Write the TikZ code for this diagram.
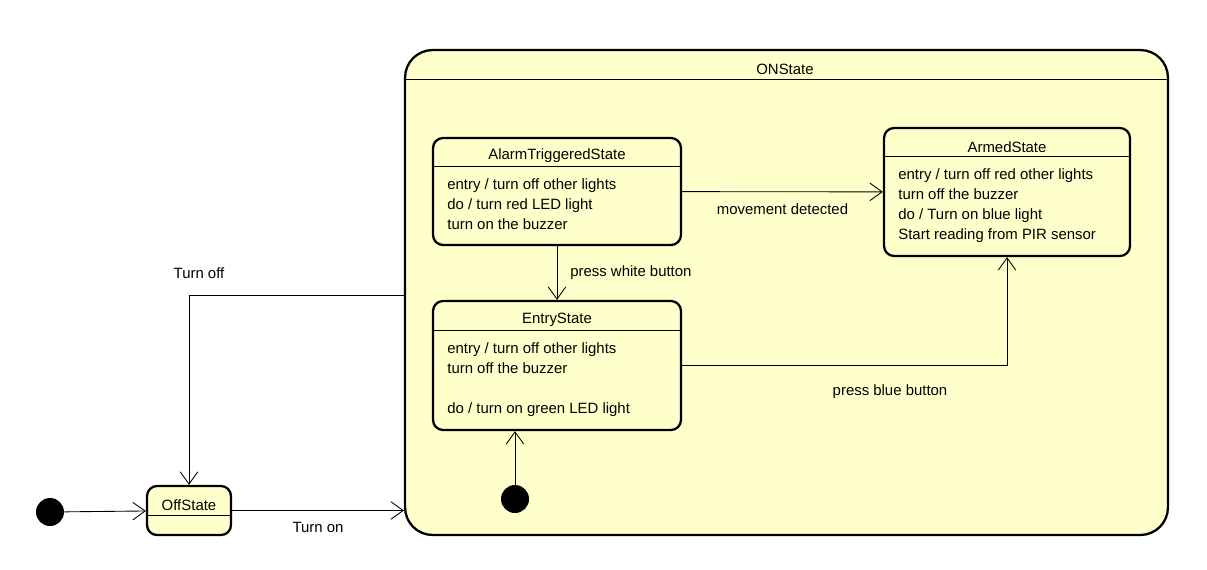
\documentclass[tikz,border=0pt]{standalone}
\usepackage{fontspec}
\setmainfont{Liberation Sans}
\usetikzlibrary{arrows.meta}
\definecolor{statefill}{HTML}{FFFFCC}

\begin{document}
\begin{tikzpicture}[x=0.02cm, y=-0.02cm,
    font=\fontsize{8.5}{11.5}\selectfont,
    state/.style={draw, rectangle, rounded corners=0.2cm, fill=statefill, line width=1.3pt},
    body/.style={anchor=north west, align=left, inner sep=0pt}]
            \tikzset{dot/.style = {shape=circle, fill=black, minimum size=0.56cm, inner sep=0pt}}
            \tikzset{edge/.style = {-{Straight Barb[length=7pt, width=10pt]}, line width=0.5pt}}
            \useasboundingbox (0,0) rectangle (1207,569);

            % outer composite state
            \node[state, rounded corners=0.55cm, minimum width=15.26cm, minimum height=9.7cm] (on) at (786.5,292.5) {};
            \draw[line width=0.6pt] ([yshift=-0.62cm]on.north west) -- ([yshift=-0.62cm]on.north east);
            \node (ontitle) at (785,69) {ONState};

            \node[state, minimum width=4.96cm, minimum height=2.14cm] (alarm) at (557,191.5) {};
            \draw[line width=0.6pt] ([yshift=-0.6cm]alarm.north west) -- ([yshift=-0.6cm]alarm.north east);
            \node (alarmtitle) at (557,155.5) {AlarmTriggeredState};
            \node[body] (alarmbody) at (447,178) {entry / turn off other lights\\do / turn red LED light\\turn on the buzzer};

            \node[state, minimum width=4.92cm, minimum height=2.56cm] (armed) at (1007,192) {};
            \draw[line width=0.6pt] ([yshift=-0.6cm]armed.north west) -- ([yshift=-0.6cm]armed.north east);
            \node (armedtitle) at (1007,147.5) {ArmedState};
            \node[body] (armedbody) at (898,168) {entry / turn off red other lights\\turn off the buzzer\\do / Turn on blue light\\Start reading from PIR sensor};

            \node[state, minimum width=4.96cm, minimum height=2.58cm] (entry) at (557,365.5) {};
            \draw[line width=0.6pt] ([yshift=-0.62cm]entry.north west) -- ([yshift=-0.62cm]entry.north east);
            \node (entrytitle) at (557,319.5) {EntryState};
            \node[body] (entrybody) at (447,342) {entry / turn off other lights\\turn off the buzzer\\ \mbox{}\\do / turn on green LED light};

            \node[state, minimum width=1.68cm, minimum height=0.98cm] (off) at (189,510.5) {};
            \draw[line width=0.6pt] ([yshift=-0.62cm]off.north west) -- ([yshift=-0.62cm]off.north east);
            \node (offtitle) at (189,505) {OffState};

            \node[dot] (init) at (50,512) {};
            \node[dot] (start) at (515,499) {};

            % transitions
            \draw [edge] (init) -- (off);
            \draw [edge] (off.east) -- (on.west |- off.east) node[midway, below=3pt] {Turn on};
            \draw [edge] ([yshift=-0.05cm]on.west) -| (off.north);
            \node (turnoff) at (199,273) {Turn off};
            \draw [edge] (alarm) -- (armed) node[midway, below=3pt] {movement detected};
            \draw [edge] (alarm) -- (entry) node[midway, right=4pt] {press white button};
            \draw [edge] (entry.east) -| (armed.south);
            \node (pressblue) at (890,392) {press blue button};
            \draw [edge] (start) -- (start |- entry.south);

            \end{tikzpicture}
\end{document}
